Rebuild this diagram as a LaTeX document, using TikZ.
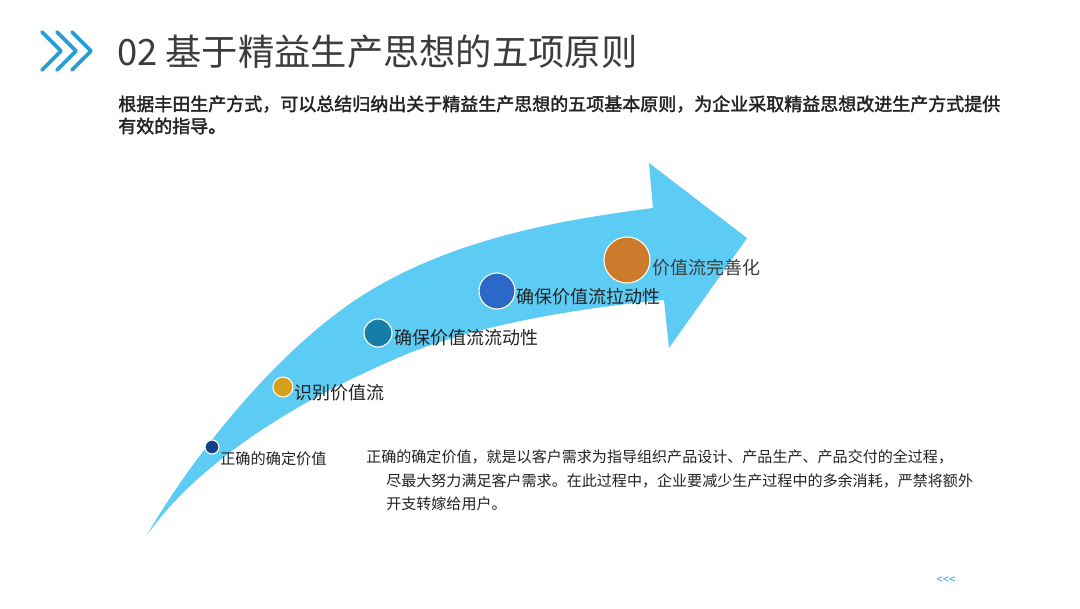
\documentclass[tikz,border=0pt]{standalone}
\usepackage{fontspec}
\setmainfont{Noto Sans CJK SC}[AutoFakeBold=2]
\usepackage{tikz}
\usetikzlibrary{positioning}
\definecolor{leanblue}{RGB}{92,204,245}
\definecolor{leanchev}{RGB}{40,158,214}
\definecolor{leannavy}{RGB}{22,64,140}
\definecolor{leangold}{RGB}{214,160,26}
\definecolor{leanteal}{RGB}{22,124,168}
\definecolor{leanroyal}{RGB}{44,104,200}
\definecolor{leanorange}{RGB}{206,122,44}
\definecolor{leantext}{RGB}{35,35,35}
\definecolor{leangrey}{RGB}{60,60,60}

\begin{document}
\begin{tikzpicture}[
    x=0.025cm, y=-0.025cm,
    dot/.style={circle, inner sep=0pt, draw=white!90!yellow, line width=0.8pt},
    steplabel/.style={anchor=west, inner sep=0pt, text=leantext,
                      font=\fontsize{12.8}{15}\selectfont},
    bodyline/.style={anchor=west, inner sep=0pt, text=leantext,
                     font=\fontsize{10.7}{13}\selectfont},
  ]
  \useasboundingbox[fill=white] (0,0) rectangle (1080,608);

  % --- header ---
  \foreach \xo in {0,15,30} {
    \draw[leanchev, line width=2.6pt, line cap=round, line join=round]
      (42+\xo,32) -- (61+\xo,51) -- (42+\xo,70);
  }
  \node[anchor=west, inner sep=0pt, text=leangrey,
        font=\fontsize{25.8}{30}\selectfont] (title) at (117,52)
    {02 基于精益生产思想的五项原则};
  \node[anchor=west, inner sep=0pt, text=leantext,
        font=\fontsize{12.8}{16}\selectfont\bfseries] (intro1) at (118,104)
    {根据丰田生产方式，可以总结归纳出关于精益生产思想的五项基本原则，为企业采取精益思想改进生产方式提供};
  \node[anchor=west, inner sep=0pt, text=leantext,
        font=\fontsize{12.8}{16}\selectfont\bfseries] (intro2) at (118,126)
    {有效的指导。};

  % --- curved arrow ---
  \fill[leanblue] (147,535)
    .. controls (190,460) and (275,352) .. (360,297)
    .. controls (450,239) and (560,220) .. (653,208)
    -- (649,163) -- (747,238) -- (669,348) -- (664,300)
    .. controls (580,308) and (470,325) .. (393,360)
    .. controls (300,400) and (200,460) .. (147,535) -- cycle;

  % --- the five principles ---
  \node[dot, fill=leannavy,   minimum size=0.35cm] (dot1) at (212,447) {};
  \node[dot, fill=leangold,   minimum size=0.5cm]  (dot2) at (283,387) {};
  \node[dot, fill=leanteal,   minimum size=0.7cm]  (dot3) at (378,333) {};
  \node[dot, fill=leanroyal,  minimum size=0.9cm]  (dot4) at (497,291) {};
  \node[dot, fill=leanorange, minimum size=1.15cm] (dot5) at (627,260) {};

  \node[steplabel, font=\fontsize{10.8}{13}\selectfont] (lab1) at (220,459) {正确的确定价值};
  \node[steplabel] (lab2) at (294,393) {识别价值流};
  \node[steplabel] (lab3) at (394,338) {确保价值流流动性};
  \node[steplabel] (lab4) at (516,297) {确保价值流拉动性};
  \node[steplabel, text=leangrey] (lab5) at (652,268) {价值流完善化};

  % --- description ---
  \node[bodyline] (desc1) at (366,457)
    {正确的确定价值，就是以客户需求为指导组织产品设计、产品生产、产品交付的全过程，};
  \node[bodyline] (desc2) at (386,481)
    {尽最大努力满足客户需求。在此过程中，企业要减少生产过程中的多余消耗，严禁将额外};
  \node[bodyline] (desc3) at (386,504) {开支转嫁给用户。};

  \node[inner sep=0pt, text=leanchev, font=\fontsize{8}{9}\selectfont] (back) at (946,580) {<{}<{}<};
\end{tikzpicture}
\end{document}
